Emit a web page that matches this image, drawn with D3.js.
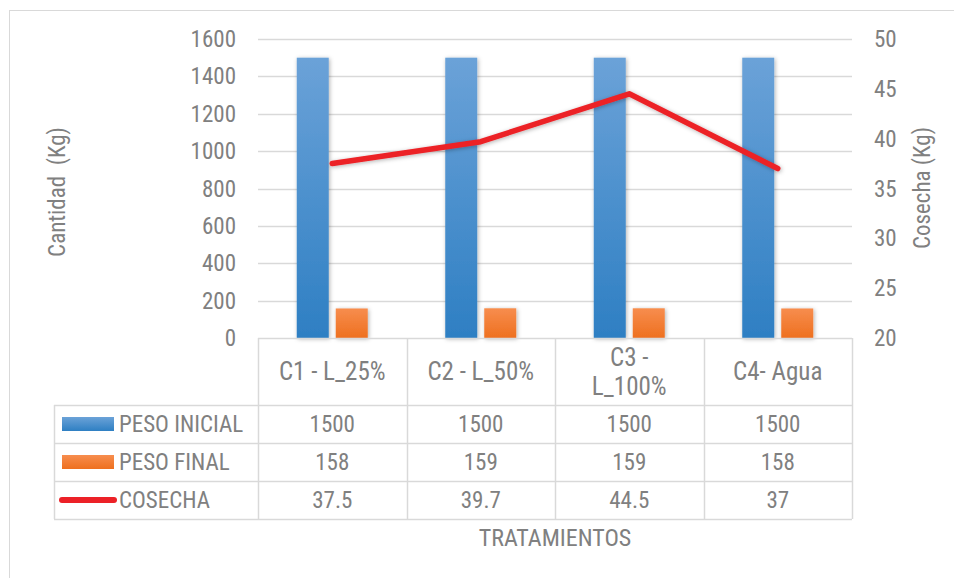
<!DOCTYPE html>
<html>
<head>
<meta charset="utf-8">
<script src="https://cdn.jsdelivr.net/npm/d3@7"></script>
<style>
  html, body { margin: 0; padding: 0; background: #fff; }
  svg text { font-family: "Liberation Sans Narrow", "Roboto Condensed", "Arial Narrow", sans-serif; fill: #808080; white-space: pre; }
</style>
</head>
<body>
<svg id="chart" width="954" height="578"></svg>
<script>
// Data
var categories = ['C1 - L_25%', 'C2 - L_50%', 'C3 - L_100%', 'C4- Agua'];
var categoryLines = [['C1 - L_25%'], ['C2 - L_50%'], ['C3 -', 'L_100%'], ['C4- Agua']];
var pesoInicial = [1500, 1500, 1500, 1500];
var pesoFinal = [158, 159, 159, 158];
var cosecha = [37.5, 39.7, 44.5, 37];
var cosechaLabels = ['37.5', '39.7', '44.5', '37'];
var leftTicks = [0, 200, 400, 600, 800, 1000, 1200, 1400, 1600];
var rightTicks = [20, 25, 30, 35, 40, 45, 50];
var seriesNames = ['PESO INICIAL', 'PESO FINAL', 'COSECHA'];

var svg = d3.select('#chart');
var defs = svg.append('defs');

var plot = { left: 258, right: 852, top: 39, bottom: 338 };
var tableLeft = 54;
var headerBottom = 405, rowH = 38;

// chart frame
svg.append('rect').attr('x', 9.5).attr('y', 10.5).attr('width', 960).attr('height', 600)
	.attr('fill', 'none').attr('stroke', '#d9d9d9');

// gradients + shadow
function grad(id, top, bottom) {
	var g = defs.append('linearGradient').attr('id', id).attr('x1', 0).attr('y1', 0).attr('x2', 0).attr('y2', 1);
	g.append('stop').attr('offset', '0%').attr('stop-color', top);
	g.append('stop').attr('offset', '100%').attr('stop-color', bottom);
}
grad('gBlue', '#6ba2d8', '#2e7fc3');
grad('gOrange', '#f78d4e', '#ee701f');
var f = defs.append('filter').attr('id', 'shadow').attr('x', '-30%').attr('y', '-30%').attr('width', '160%').attr('height', '160%');
f.append('feDropShadow').attr('dx', 1).attr('dy', 1).attr('stdDeviation', 2).attr('flood-color', '#000').attr('flood-opacity', 0.3);

var x = d3.scaleBand().domain(categories).range([plot.left, plot.right]);
var yL = d3.scaleLinear().domain([0, 1600]).range([plot.bottom, plot.top]);
var yR = d3.scaleLinear().domain([20, 50]).range([plot.bottom, plot.top]);

// gridlines
svg.append('g').selectAll('line').data(leftTicks.filter(function (t) { return t > 0; })).join('line')
	.attr('x1', plot.left).attr('x2', plot.right)
	.attr('y1', function (d) { return Math.round(yL(d)) + 0.5; })
	.attr('y2', function (d) { return Math.round(yL(d)) + 0.5; })
	.attr('stroke', '#d9d9d9').attr('stroke-width', 1.3);

// left axis labels
svg.append('g').selectAll('text').data(leftTicks).join('text')
	.attr('x', 236).attr('y', function (d) { return yL(d); }).attr('dy', '0.35em')
	.attr('text-anchor', 'end').style('font-size', '23px').text(function (d) { return d; });

// right axis labels
svg.append('g').selectAll('text').data(rightTicks).join('text')
	.attr('x', 874).attr('y', function (d) { return yR(d); }).attr('dy', '0.35em')
	.attr('text-anchor', 'start').style('font-size', '23px').text(function (d) { return d; });

// axis titles
svg.append('text').attr('transform', 'translate(65,192) rotate(-90)').attr('text-anchor', 'middle')
	.style('font-size', '23px').text('Cantidad  (Kg)');
svg.append('text').attr('transform', 'translate(930,188) rotate(-90)').attr('text-anchor', 'middle')
	.style('font-size', '23px').text('Cosecha (Kg)');

// bars
var bw = 32, gap = 7;
var bars = svg.append('g');
bars.selectAll('rect.ini').data(pesoInicial).join('rect').attr('class', 'ini')
	.attr('x', function (d, i) { return x(categories[i]) + x.bandwidth() / 2 - gap / 2 - bw; })
	.attr('y', function (d) { return yL(d); })
	.attr('width', bw).attr('height', function (d) { return yL(0) - yL(d); })
	.attr('fill', 'url(#gBlue)').attr('filter', 'url(#shadow)');
bars.selectAll('rect.fin').data(pesoFinal).join('rect').attr('class', 'fin')
	.attr('x', function (d, i) { return x(categories[i]) + x.bandwidth() / 2 + gap / 2; })
	.attr('y', function (d) { return yL(d); })
	.attr('width', bw).attr('height', function (d) { return yL(0) - yL(d); })
	.attr('fill', 'url(#gOrange)').attr('filter', 'url(#shadow)');

// cosecha line
var line = d3.line()
	.x(function (d, i) { return x(categories[i]) + x.bandwidth() / 2; })
	.y(function (d) { return yR(d); });
svg.append('path').datum(cosecha).attr('d', line)
	.attr('fill', 'none').attr('stroke', '#ec2127').attr('stroke-width', 5.5)
	.attr('stroke-linecap', 'round').attr('stroke-linejoin', 'round').attr('filter', 'url(#shadow)');

// data table
var tbl = svg.append('g');
var gridColor = '#d9d9d9';
var tableBottom = headerBottom + rowH * 3;
tbl.append('line').attr('x1', plot.left).attr('x2', plot.right).attr('y1', plot.bottom + 0.5).attr('y2', plot.bottom + 0.5)
	.attr('stroke', gridColor).attr('stroke-width', 1.5);
[0, 1, 2, 3].forEach(function (r) {
	var yy = headerBottom + r * rowH + 0.5;
	tbl.append('line').attr('x1', tableLeft).attr('x2', plot.right).attr('y1', yy).attr('y2', yy)
		.attr('stroke', gridColor).attr('stroke-width', 1.5);
});
var vx = categories.map(function (c) { return x(c); }).concat([plot.right]);
vx.forEach(function (xx) {
	tbl.append('line').attr('x1', Math.round(xx) + 0.5).attr('x2', Math.round(xx) + 0.5)
		.attr('y1', plot.bottom).attr('y2', tableBottom).attr('stroke', gridColor).attr('stroke-width', 1.5);
});
tbl.append('line').attr('x1', tableLeft + 0.5).attr('x2', tableLeft + 0.5).attr('y1', headerBottom).attr('y2', tableBottom)
	.attr('stroke', gridColor).attr('stroke-width', 1.5);

// header labels
categoryLines.forEach(function (lines, i) {
	var cx = x(categories[i]) + x.bandwidth() / 2;
	var cy = (plot.bottom + headerBottom) / 2;
	var lh = 29;
	lines.forEach(function (t, j) {
		tbl.append('text').attr('x', cx).attr('y', cy + (j - (lines.length - 1) / 2) * lh).attr('dy', '0.35em')
			.attr('text-anchor', 'middle').style('font-size', '25px').text(t);
	});
});

// row values
var rows = [pesoInicial, pesoFinal, cosechaLabels];
rows.forEach(function (vals, r) {
	var cy = headerBottom + r * rowH + rowH / 2;
	tbl.selectAll(null).data(vals).join('text')
		.attr('x', function (d, i) { return x(categories[i]) + x.bandwidth() / 2; })
		.attr('y', cy).attr('dy', '0.35em').attr('text-anchor', 'middle').style('font-size', '23px')
		.text(function (d) { return d; });
	tbl.append('text').attr('x', 119).attr('y', cy).attr('dy', '0.35em').style('font-size', '23px').text(seriesNames[r]);
});

// legend keys
var k0 = headerBottom + rowH / 2;
tbl.append('rect').attr('x', 62).attr('y', k0 - 7).attr('width', 52).attr('height', 14).attr('fill', 'url(#gBlue)');
tbl.append('rect').attr('x', 62).attr('y', k0 + rowH - 7).attr('width', 52).attr('height', 14).attr('fill', 'url(#gOrange)');
tbl.append('line').attr('x1', 62).attr('x2', 114).attr('y1', k0 + rowH * 2).attr('y2', k0 + rowH * 2)
	.attr('stroke', '#ec2127').attr('stroke-width', 6).attr('stroke-linecap', 'round');

// x axis title
svg.append('text').attr('x', (plot.left + plot.right) / 2).attr('y', 538).attr('dy', '0.35em')
	.attr('text-anchor', 'middle').style('font-size', '24px').text('TRATAMIENTOS');
</script>
</body>
</html>
